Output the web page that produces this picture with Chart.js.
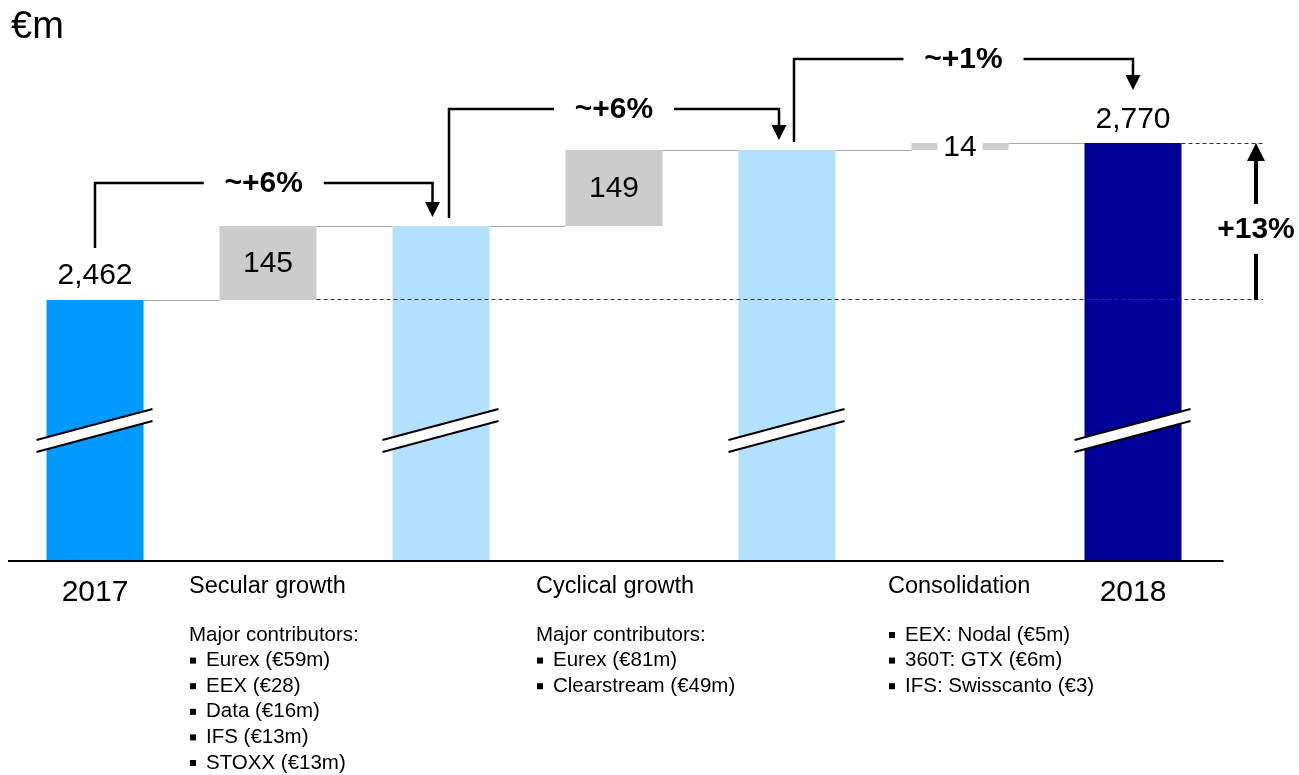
<!DOCTYPE html>
<html>
<head>
<meta charset="utf-8">
<script src="https://cdn.jsdelivr.net/npm/chart.js@4/dist/chart.umd.min.js"></script>
<style>
html,body{margin:0;padding:0;background:#ffffff;}
#wrap{width:1299px;height:775px;position:relative;}
</style>
</head>
<body>
<div id="wrap"><canvas id="c" width="1299" height="775"></canvas></div>
<script>
// ---- data ----
const categories = ['2017', 'Secular growth', '', 'Cyclical growth', '', 'Consolidation', '2018'];
const startValue = 2462;
const endValue = 2770;
const stepValues = [145, 149, 14];
const valueLabels = ['2,462', '145', '', '149', '', '14', '2,770'];
const growthLabels = ['~+6%', '~+6%', '~+1%'];
const totalGrowthLabel = '+13%';
const unitLabel = '€m';
const secularLines = ['Major contributors:', '•Eurex (€59m)', '•EEX (€28)', '•Data (€16m)', '•IFS (€13m)', '•STOXX (€13m)'];
const cyclicalLines = ['Major contributors:', '•Eurex (€81m)', '•Clearstream (€49m)'];
const consolidationLines = ['•EEX: Nodal (€5m)', '•360T: GTX (€6m)', '•IFS: Swisscanto (€3)'];
const axisMin = 1952;
const axisMax = 2972;

// ---- derived ----
const lvl1 = startValue + stepValues[0];
const lvl2 = lvl1 + stepValues[1];
const barData = [
  [axisMin, startValue],
  [startValue, lvl1],
  [axisMin, lvl1],
  [lvl1, lvl2],
  [axisMin, lvl2],
  [lvl2, lvl2 + stepValues[2]],
  [axisMin, endValue]
];
const barColors = ['#0099FF', '#CCCCCC', '#B3E0FF', '#CCCCCC', '#B3E0FF', '#CCCCCC', '#000099'];
const columnText = [
  {idx: 1, off: 79, lines: secularLines},
  {idx: 3, off: 78, lines: cyclicalLines},
  {idx: 5, off: 72, lines: consolidationLines}
];

const FONT = '"Liberation Sans", Arial, Helvetica, sans-serif';

function arrowHead(ctx, x, tipY, dir, halfW, h) {
  ctx.beginPath();
  ctx.moveTo(x, tipY);
  ctx.lineTo(x - halfW, tipY - dir * h);
  ctx.lineTo(x + halfW, tipY - dir * h);
  ctx.closePath();
  ctx.fill();
}

const deco = {
  id: 'deco',
  beforeDatasetsDraw(chart) {
    const {ctx} = chart;
    const y = chart.scales.y;
    const meta = chart.getDatasetMeta(0);
    ctx.save();
    ctx.strokeStyle = '#A6A6A6';
    ctx.lineWidth = 1;
    for (let i = 0; i < meta.data.length - 1; i++) {
      const a = meta.data[i], b = meta.data[i + 1];
      const yy = Math.round(y.getPixelForValue(barData[i][1])) + 0.5;
      ctx.beginPath();
      ctx.moveTo(a.x + a.width / 2, yy);
      ctx.lineTo(b.x - b.width / 2, yy);
      ctx.stroke();
    }
    ctx.restore();
  },
  afterDatasetsDraw(chart) {
    const {ctx, chartArea} = chart;
    const y = chart.scales.y;
    const meta = chart.getDatasetMeta(0);
    const bars = meta.data;
    const yp = v => y.getPixelForValue(v);
    ctx.save();

    // baseline axis
    ctx.strokeStyle = '#000';
    ctx.lineWidth = 2;
    ctx.beginPath();
    ctx.moveTo(chartArea.left - 0.5, chartArea.bottom + 1);
    ctx.lineTo(chartArea.right + 4, chartArea.bottom + 1);
    ctx.stroke();

    // axis break marks on full bars
    [0, 2, 4, 6].forEach(i => {
      const el = bars[i];
      const l = el.x - el.width / 2 - 10, r = el.x + el.width / 2 + 9;
      const yc = chartArea.bottom - 129.5;
      const dy = 15.5;
      ctx.fillStyle = '#fff';
      ctx.beginPath();
      ctx.moveTo(l, yc + dy - 6);
      ctx.lineTo(r, yc - dy - 6);
      ctx.lineTo(r, yc - dy + 6);
      ctx.lineTo(l, yc + dy + 6);
      ctx.closePath();
      ctx.fill();
      ctx.strokeStyle = '#000';
      ctx.lineWidth = 2;
      ctx.beginPath();
      ctx.moveTo(l, yc + dy - 6); ctx.lineTo(r, yc - dy - 6);
      ctx.moveTo(l, yc + dy + 6); ctx.lineTo(r, yc - dy + 6);
      ctx.stroke();
    });

    // dashed reference lines
    const arrowX = bars[6].x + 123;
    ctx.strokeStyle = '#333';
    ctx.lineWidth = 1;
    ctx.setLineDash([4, 3]);
    let yy = Math.round(yp(startValue)) - 0.5;
    ctx.beginPath();
    ctx.moveTo(bars[1].x + bars[1].width / 2, yy);
    ctx.lineTo(arrowX + 7, yy);
    ctx.stroke();
    yy = Math.round(yp(endValue)) + 0.5;
    ctx.beginPath();
    ctx.moveTo(bars[6].x + bars[6].width / 2, yy);
    ctx.lineTo(arrowX + 7, yy);
    ctx.stroke();
    ctx.setLineDash([]);

    // value labels
    ctx.fillStyle = '#000';
    ctx.textAlign = 'center';
    ctx.textBaseline = 'middle';
    ctx.font = '30px ' + FONT;
    ctx.fillText(valueLabels[0], bars[0].x, yp(startValue) - 24);
    ctx.fillText(valueLabels[6], bars[6].x, yp(endValue) - 23.5);
    [1, 3].forEach(i => {
      const el = bars[i];
      ctx.fillText(valueLabels[i], el.x, (el.y + el.base) / 2 + 1);
    });
    // small step label with white box
    {
      const el = bars[5];
      const w = ctx.measureText(valueLabels[5]).width + 12;
      ctx.fillStyle = '#fff';
      ctx.fillRect(el.x - w / 2, el.y - 4, w, (el.base - el.y) + 8);
      ctx.fillStyle = '#000';
      ctx.fillText(valueLabels[5], el.x, (el.y + el.base) / 2 + 1);
    }

    // growth brackets
    const brackets = [
      {x1: bars[0].x, yS: yp(startValue) - 52, yT: yp(lvl1) - 43, x2: bars[2].x - 8.5, tip: yp(lvl1) - 9, t: growthLabels[0]},
      {x1: bars[2].x + 8, yS: yp(lvl1) - 8, yT: yp(lvl2) - 41, x2: bars[4].x - 8, tip: yp(lvl2) - 10, t: growthLabels[1]},
      {x1: bars[4].x + 7, yS: yp(lvl2) - 8, yT: yp(endValue) - 84, x2: bars[6].x, tip: yp(endValue) - 53, t: growthLabels[2]}
    ];
    ctx.strokeStyle = '#000';
    ctx.fillStyle = '#000';
    ctx.lineWidth = 2.5;
    ctx.lineJoin = 'miter';
    ctx.font = 'bold 30px ' + FONT;
    brackets.forEach(b => {
      const cx = (b.x1 + b.x2) / 2;
      ctx.beginPath();
      ctx.moveTo(b.x1, b.yS);
      ctx.lineTo(b.x1, b.yT);
      ctx.lineTo(cx - 60, b.yT);
      ctx.stroke();
      ctx.beginPath();
      ctx.moveTo(cx + 60, b.yT);
      ctx.lineTo(b.x2, b.yT);
      ctx.lineTo(b.x2, b.tip - 12);
      ctx.stroke();
      arrowHead(ctx, b.x2, b.tip, 1, 7.5, 15);
      ctx.fillText(b.t, cx, b.yT + 1);
    });

    // total growth arrow
    {
      const top = yp(endValue), bot = yp(startValue);
      const mid = (top + bot) / 2 + 7.5;
      ctx.lineWidth = 4;
      ctx.beginPath();
      ctx.moveTo(arrowX, top + 16);
      ctx.lineTo(arrowX, mid - 25);
      ctx.moveTo(arrowX, mid + 25);
      ctx.lineTo(arrowX, bot);
      ctx.stroke();
      arrowHead(ctx, arrowX, top, -1, 9, 18);
      ctx.font = 'bold 30px ' + FONT;
      ctx.fillText(totalGrowthLabel, arrowX, mid + 1);
    }

    // category labels
    const bottom = chartArea.bottom;
    ctx.font = '30px ' + FONT;
    ctx.textAlign = 'center';
    ctx.fillText(categories[0], bars[0].x, bottom + 33);
    ctx.fillText(categories[6], bars[6].x, bottom + 33);

    ctx.textAlign = 'left';
    columnText.forEach(col => {
      const left = bars[col.idx].x - col.off;
      ctx.font = '23.5px ' + FONT;
      ctx.fillText(categories[col.idx], left, bottom + 27);
      ctx.font = '20.5px ' + FONT;
      col.lines.forEach((ln, k) => {
        const ty = bottom + 75 + k * 25.6;
        if (ln.startsWith('•')) {
          ctx.fillRect(left + 1, ty - 3, 6, 6);
          ctx.fillText(ln.slice(1), left + 17, ty);
        } else {
          ctx.fillText(ln, left, ty);
        }
      });
    });

    // unit label
    ctx.font = '38px ' + FONT;
    ctx.textBaseline = 'alphabetic';
    ctx.fillText(unitLabel, 11, 38);

    ctx.restore();
  }
};

new Chart(document.getElementById('c'), {
  type: 'bar',
  data: {
    labels: categories,
    datasets: [{
      data: barData,
      backgroundColor: barColors,
      borderWidth: 0,
      barPercentage: 1,
      categoryPercentage: 97 / 173
    }]
  },
  options: {
    responsive: false,
    animation: false,
    layout: {padding: {left: 8.5, right: 79.5, top: 40, bottom: 215}},
    plugins: {legend: {display: false}, tooltip: {enabled: false}},
    scales: {
      x: {display: false},
      y: {display: false, min: axisMin, max: axisMax}
    }
  },
  plugins: [deco]
});
</script>
</body>
</html>
